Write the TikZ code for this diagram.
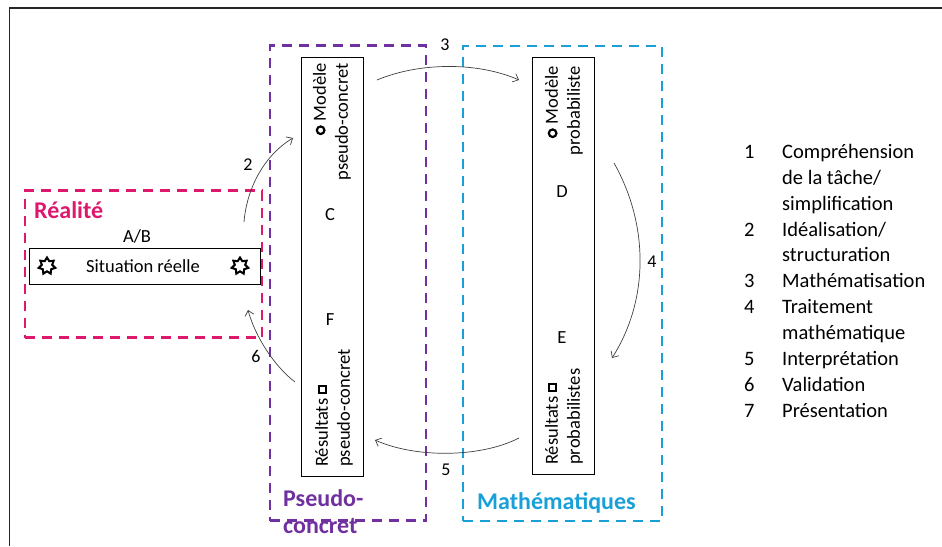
\documentclass[tikz,border=0pt]{standalone}
\usepackage{fontspec}
\setmainfont{Carlito}
\usepackage{xcolor}
\usepackage{tikz}
\usetikzlibrary{arrows.meta,shapes.geometric}

\definecolor{realcol}{RGB}{222,24,108}
\definecolor{pseudocol}{RGB}{112,48,160}
\definecolor{mathcol}{RGB}{26,160,216}

\tikzset{
  zone/.style={draw=#1, line width=2.6pt, dash pattern=on 10pt off 7pt, inner sep=0},
  inner/.style={draw, line width=0.8pt, inner sep=0},
  zonetitle/.style={text=#1, font=\fontsize{24}{27}\selectfont\bfseries, inner sep=0, align=left},
  boxtext/.style={font=\fontsize{18.5}{22}\selectfont, inner sep=0},
  steplabel/.style={font=\fontsize{18}{20}\selectfont, inner sep=0},
  starmark/.style={star, star points=7, star point ratio=1.6, draw, line width=2pt, minimum size=17pt, inner sep=0},
  cycle arrow/.style={-{Straight Barb[length=5pt,width=9pt]}, line width=0.7pt, black!75},
}

\newcommand{\ringmark}{\tikz[baseline=-0.6ex]\draw[line width=2.2pt] (0,0) circle (3.8pt);}
\newcommand{\squaremark}{\tikz[baseline=-0.6ex]\draw[line width=2pt] (-3.8pt,-3.8pt) rectangle (3.8pt,3.8pt);}

\begin{document}
\begin{tikzpicture}[x=1pt, y=-1pt]
  \useasboundingbox (0,0) rectangle (942,546);

  % --- 1. Frame ---
  \draw[line width=1.4pt, black!85] (9.5,546) -- (9.5,8) -- (942,8);

  % --- 2. Zones ---
  \node[zone=realcol, minimum width=237pt, minimum height=147pt] (realite) at (143.5,264) {};
  \node[zone=pseudocol, minimum width=156pt, minimum height=475pt] (pseudo) at (348,283) {};
  \node[zone=mathcol, minimum width=199pt, minimum height=475pt] (maths) at (562.5,283.5) {};

  \node[zonetitle=realcol, anchor=north west] (titreR) at (34,201) {Réalité};
  \node[zonetitle=pseudocol, anchor=north west] (titreP) at (283,489) {Pseudo-\\concret};
  \node[zonetitle=mathcol, anchor=north west] (titreM) at (477,492) {Mathématiques};

  % --- 3. Situation reelle ---
  \node[inner, minimum width=231pt, minimum height=36pt] (situation) at (144.5,266) {};
  \node[boxtext] (sitlabel) at (143,266) {Situation réelle};
  \node[starmark] (starL) at (47,266) {};
  \node[starmark] (starR) at (240,266) {};
  \node[boxtext] (ab) at (137,236) {A/B};

  % --- 4. Pseudo-concret column ---
  \node[inner, minimum width=62pt, minimum height=419pt] (colP) at (332,266.5) {};
  \node[boxtext, rotate=90, anchor=east, align=right] (modP) at (332,63) {\ringmark\ Modèle\\pseudo-concret};
  \node[boxtext] (C) at (330,215) {C};
  \node[boxtext] (F) at (330,320) {F};
  \node[boxtext, rotate=90, anchor=west, align=left] (resP) at (334,467) {Résultats \squaremark\\pseudo-concret};

  % --- 5. Probabiliste column ---
  \node[inner, minimum width=62pt, minimum height=417pt] (colM) at (563,265.5) {};
  \node[boxtext, rotate=90, anchor=east, align=right] (modM) at (564,66) {\ringmark\ Modèle\\probabiliste};
  \node[boxtext] (D) at (562,192) {D};
  \node[boxtext] (E) at (562,338) {E};
  \node[boxtext, rotate=90, anchor=west, align=left] (resM) at (564,465) {Résultats \squaremark\\probabilistes};

  % --- 6. Cycle arrows ---
  \coordinate (a2s) at (244,222);  \coordinate (a2e) at (293,138);
  \coordinate (a3s) at (377,80);   \coordinate (a3e) at (519,80);
  \coordinate (a4s) at (614,163);  \coordinate (a4e) at (612,358);
  \coordinate (a5s) at (519,438);  \coordinate (a5e) at (375,440);
  \coordinate (a6s) at (295,382);  \coordinate (a6e) at (248,310);

  \draw[cycle arrow] (a2s) .. controls (247,186) and (266,154) .. (a2e);
  \draw[cycle arrow] (a3s) .. controls (420,62) and (478,62) .. (a3e);
  \draw[cycle arrow] (a4s) .. controls (649,225) and (649,300) .. (a4e);
  \draw[cycle arrow] (a5s) .. controls (480,458) and (415,458) .. (a5e);
  \draw[cycle arrow] (a6s) .. controls (274,366) and (255,336) .. (a6e);

  \node[steplabel] (n2) at (248,165) {2};
  \node[steplabel] (n3) at (445,45) {3};
  \node[steplabel] (n4) at (652,262) {4};
  \node[steplabel] (n5) at (446,470) {5};
  \node[steplabel] (n6) at (256,356) {6};

  % --- 7. Legend ---
  \node[anchor=north west, inner sep=0, font=\fontsize{20.5}{25.9}\selectfont] (legend) at (744,140) {%
    \begin{tabular}{@{}p{38pt}@{}l@{}}
      1 & Compréhension\\
        & de la tâche/\\
        & simplification\\
      2 & Idéalisation/\\
        & structuration\\
      3 & Mathématisation\\
      4 & Traitement\\
        & mathématique\\
      5 & Interprétation\\
      6 & Validation\\
      7 & Présentation
    \end{tabular}};

\end{tikzpicture}
\end{document}
